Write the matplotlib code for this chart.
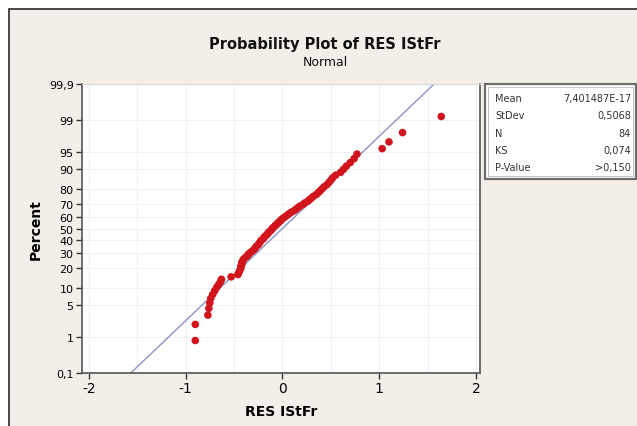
import numpy as np
import matplotlib
matplotlib.use("Agg")
import matplotlib.pyplot as plt
from matplotlib.patches import Rectangle
from statistics import NormalDist

# sorted residuals (RES IStFr)
residuals = [
    -0.90, -0.90, -0.77, -0.76, -0.75, -0.74, -0.72, -0.70, -0.68, -0.66,
    -0.64, -0.63, -0.53, -0.46, -0.45, -0.44, -0.43, -0.43, -0.42, -0.42,
    -0.41, -0.40, -0.38, -0.36, -0.35, -0.33, -0.31, -0.29, -0.28, -0.27,
    -0.25, -0.24, -0.23, -0.22, -0.20, -0.19, -0.18, -0.16, -0.15, -0.14,
    -0.12, -0.11, -0.10, -0.08, -0.07, -0.05, -0.04, -0.02, -0.01, 0.01,
    0.03, 0.05, 0.07, 0.09, 0.12, 0.14, 0.16, 0.18, 0.21, 0.23,
    0.26, 0.28, 0.30, 0.32, 0.35, 0.37, 0.39, 0.41, 0.43, 0.46,
    0.48, 0.50, 0.52, 0.55, 0.60, 0.63, 0.66, 0.70, 0.74, 0.77,
    1.03, 1.10, 1.24, 1.64,
]
mean_val = 7.401487e-17
std_val = 0.5068
stat_labels = ["Mean", "StDev", "N", "KS", "P-Value"]
stat_values = ["7,401487E-17", "0,5068", "84", "0,074", ">0,150"]
y_ticks = [0.1, 1, 5, 10, 20, 30, 40, 50, 60, 70, 80, 90, 95, 99, 99.9]
y_tick_labels = ["0,1", "1", "5", "10", "20", "30", "40", "50", "60", "70",
                 "80", "90", "95", "99", "99,9"]
x_ticks = [-2, -1, 0, 1, 2]

nd = NormalDist()
_ppf = np.vectorize(lambda v: nd.inv_cdf(v / 100), otypes=[float])
_cdf = np.vectorize(lambda v: nd.cdf(v) * 100, otypes=[float])


def fwd(p):
    p = np.clip(np.asarray(p, dtype=float), 1e-6, 100 - 1e-6)
    return _ppf(p)


def inv(z):
    return _cdf(np.asarray(z, dtype=float))


n = len(residuals)
# median ranks (Benard), as Minitab does
pct = [(i - 0.3) / (n + 0.4) * 100 for i in range(1, n + 1)]

W, H = 637, 427
fig = plt.figure(figsize=(W / 100, H / 100), dpi=100, facecolor="white")
fig.patches.append(Rectangle((9 / W, -0.1), 1.0, 1 - 10 / H + 0.1,
                             transform=fig.transFigure, facecolor="#F3EFE8",
                             edgecolor="#2b2b2b", lw=1.2, zorder=-10))

ax = fig.add_axes([82 / W, 1 - 374 / H, (480 - 82) / W, (374 - 85) / H])
ax.set_facecolor("white")
ax.set_yscale("function", functions=(fwd, inv))
ax.set_ylim(0.1, 99.9)
ax.set_xlim(-2.07, 2.04)

# faint grid
for gx in np.arange(-2, 2.01, 0.5):
    ax.axvline(gx, color="#f1f1f1", lw=0.8, zorder=0)
for gy in y_ticks:
    ax.axhline(gy, color="#f1f1f1", lw=0.8, zorder=0)

# fitted line
fit_p = [0.1, 99.9]
fit_x = [mean_val + std_val * nd.inv_cdf(p / 100) for p in fit_p]
ax.plot(fit_x, fit_p, color="#8E93C4", lw=1.0, zorder=2)

ax.scatter(residuals, pct, s=30, color="#D2141C", edgecolors="none", zorder=3)

ax.set_yticks(y_ticks)
ax.set_yticklabels(y_tick_labels, fontsize=8)
ax.yaxis.set_minor_locator(matplotlib.ticker.NullLocator())
ax.set_xticks(x_ticks)
ax.set_xticklabels([str(t) for t in x_ticks], fontsize=10)
ax.tick_params(direction="out", length=4, width=1, color="#333333", pad=2)

for s in ["left", "bottom", "right"]:
    ax.spines[s].set_color("#555555")
    ax.spines[s].set_linewidth(1.2)
ax.spines["top"].set_color("#d8d8d8")

ax.set_xlabel("RES IStFr", fontsize=10, fontweight="bold", labelpad=6)
ax.set_ylabel("Percent", fontsize=10, fontweight="bold", labelpad=4)

fig.text(325 / W, 1 - 44 / H, "Probability Plot of RES IStFr", ha="center",
         va="center", fontsize=10.5, fontweight="bold", color="#111111")
fig.text(325 / W, 1 - 62.5 / H, "Normal", ha="center", va="center",
         fontsize=9, color="#111111")

# stats box
bx0, bx1, by0, by1 = 485, 636, 85, 180
fig.patches.append(Rectangle((bx0 / W, 1 - by1 / H), (bx1 - bx0) / W,
                             (by1 - by0) / H, transform=fig.transFigure,
                             facecolor="white", edgecolor="#6b6b6b", lw=1.6))
fig.patches.append(Rectangle(((bx0 + 3) / W, 1 - (by1 - 3) / H),
                             (bx1 - bx0 - 6) / W, (by1 - by0 - 6) / H,
                             transform=fig.transFigure, facecolor="none",
                             edgecolor="#bbbbbb", lw=0.6))
for k, (lab, val) in enumerate(zip(stat_labels, stat_values)):
    yy = 1 - (99 + k * 17.3) / H
    fig.text(495 / W, yy, lab, ha="left", va="center", fontsize=7,
             color="#333333")
    fig.text(631 / W, yy, val, ha="right", va="center", fontsize=7,
             color="#333333")

fig.savefig("out.png", dpi=100)
